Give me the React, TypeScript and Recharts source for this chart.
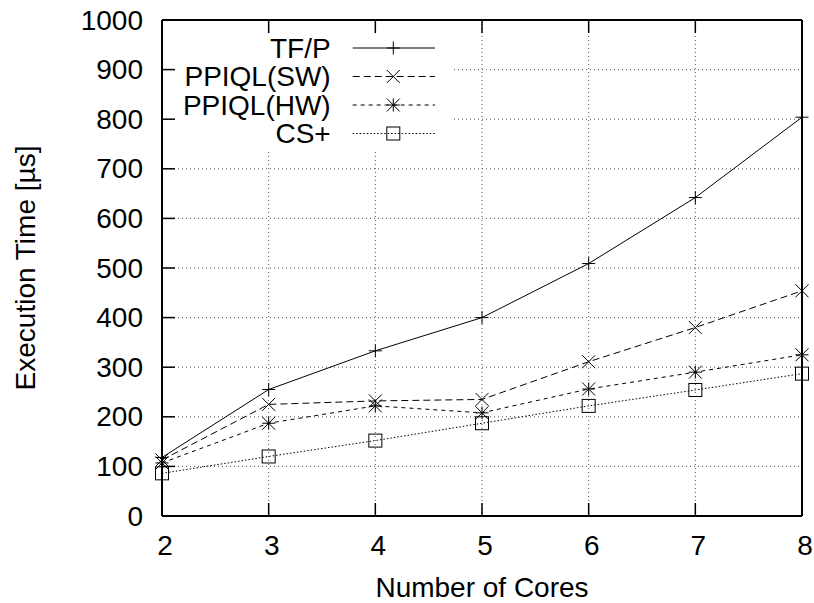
import React from 'react';
import { LineChart, Line, XAxis, YAxis, CartesianGrid, Legend, Label } from 'recharts';

const cores = [2, 3, 4, 5, 6, 7, 8];
const tfp = [118, 255, 333, 400, 509, 642, 804];
const ppiqlSW = [113, 225, 232, 235, 311, 380, 454];
const ppiqlHW = [107, 187, 222, 208, 256, 290, 325];
const csPlus = [86, 120, 152, 187, 222, 254, 287];
const yTicks = [0, 100, 200, 300, 400, 500, 600, 700, 800, 900, 1000];
const xTicks = [2, 3, 4, 5, 6, 7, 8];

const data = cores.map((c, i) => ({ cores: c, tfp: tfp[i], sw: ppiqlSW[i], hw: ppiqlHW[i], cs: csPlus[i] }));

const FONT = '"Liberation Sans", Arial, Helvetica, sans-serif';
const FS = 28;
const TICK_LEN = 13;
const Y_LABEL_GAP = 19;
const M = 6.5;

type MarkKind = 'plus' | 'cross' | 'star' | 'square';

const Mark = ({ kind, cx, cy }: { kind: MarkKind; cx: number; cy: number }) => {
  const s = { stroke: '#000', strokeWidth: 1, fill: 'none' };
  if (kind === 'square') return <rect x={cx - M} y={cy - M} width={2 * M} height={2 * M} {...s} />;
  const plus = (
    <>
      <line x1={cx - M} x2={cx + M} y1={cy} y2={cy} {...s} />
      <line x1={cx} x2={cx} y1={cy - M} y2={cy + M} {...s} />
    </>
  );
  const cross = (
    <>
      <line x1={cx - M} x2={cx + M} y1={cy - M} y2={cy + M} {...s} />
      <line x1={cx - M} x2={cx + M} y1={cy + M} y2={cy - M} {...s} />
    </>
  );
  return (
    <g>
      {(kind === 'plus' || kind === 'star') && plus}
      {(kind === 'cross' || kind === 'star') && cross}
    </g>
  );
};

const series: { key: string; name: string; dash?: string; mark: MarkKind }[] = [
  { key: 'tfp', name: 'TF/P', mark: 'plus' },
  { key: 'sw', name: 'PPIQL(SW)', dash: '7 4', mark: 'cross' },
  { key: 'hw', name: 'PPIQL(HW)', dash: '4 4', mark: 'star' },
  { key: 'cs', name: 'CS+', dash: '1.5 2', mark: 'square' },
];

const LeftTick = (p: any) => (
  <g>
    <line x1={p.x + Y_LABEL_GAP} x2={p.x + Y_LABEL_GAP + TICK_LEN} y1={p.y} y2={p.y} stroke="#000" strokeWidth={1.5} />
    <text x={p.x} y={p.y + 9.5} textAnchor="end" fontSize={FS} fontFamily={FONT} fill="#000">
      {p.payload.value}
    </text>
  </g>
);
const RightTick = (p: any) => (
  <line x1={p.x - TICK_LEN} x2={p.x} y1={p.y} y2={p.y} stroke="#000" strokeWidth={1.5} />
);
const BottomTick = (p: any) => (
  <g>
    <line x1={p.x} x2={p.x} y1={p.y - TICK_LEN} y2={p.y} stroke="#000" strokeWidth={1.5} />
    <text x={p.x + 3} y={p.y + 39} textAnchor="middle" fontSize={FS} fontFamily={FONT} fill="#000">
      {p.payload.value}
    </text>
  </g>
);
const TopTick = (p: any) => (
  <line x1={p.x} x2={p.x} y1={p.y} y2={p.y + TICK_LEN} stroke="#000" strokeWidth={1.5} />
);

const LegendBox = () => {
  const rows = [14, 42.5, 71, 99.5];
  return (
    <svg width={276} height={118} style={{ display: 'block' }}>
      <rect x={0} y={0} width={276} height={118} fill="#fff" />
      {series.map((s, i) => (
        <g key={s.key}>
          <text x={154.7} y={rows[i] + 9.5} textAnchor="end" fontSize={FS} fontFamily={FONT} fill="#000">
            {s.name}
          </text>
          <line x1={176.7} x2={259} y1={rows[i]} y2={rows[i]} stroke="#000" strokeWidth={1} strokeDasharray={s.dash} />
          <Mark kind={s.mark} cx={217.3} cy={rows[i]} />
        </g>
      ))}
    </svg>
  );
};

export default function App() {
  const axisLine = { stroke: '#000', strokeWidth: 2 };
  return (
    <div style={{ position: 'absolute', left: 0, top: 0, background: '#fff' }}>
      <LineChart width={814} height={603} data={data} margin={{ top: 0, right: 0, bottom: 0, left: 0 }}>
        <CartesianGrid stroke="#555" strokeDasharray="1 3" strokeWidth={1} horizontalValues={yTicks} verticalValues={xTicks} />
        <XAxis
          dataKey="cores"
          type="number"
          domain={[2, 8]}
          ticks={xTicks}
          interval={0}
          height={87}
          tickSize={0}
          tickMargin={0}
          tickLine={false}
          axisLine={axisLine}
          tick={BottomTick}
        >
          <Label
            content={(p: any) => {
              const vb = p.viewBox;
              return (
                <text x={vb.x + vb.width / 2} y={vb.y + vb.height - 6} textAnchor="middle" fontSize={FS} fontFamily={FONT} fill="#000">
                  Number of Cores
                </text>
              );
            }}
          />
        </XAxis>
        <XAxis
          xAxisId="top"
          orientation="top"
          dataKey="cores"
          type="number"
          domain={[2, 8]}
          ticks={xTicks}
          interval={0}
          height={20}
          tickSize={0}
          tickMargin={0}
          tickLine={false}
          axisLine={axisLine}
          tick={TopTick}
        />
        <YAxis
          type="number"
          domain={[0, 1000]}
          ticks={yTicks}
          interval={0}
          width={162}
          tickSize={0}
          tickMargin={Y_LABEL_GAP}
          tickLine={false}
          axisLine={axisLine}
          tick={LeftTick}
        >
          <Label
            content={(p: any) => {
              const vb = p.viewBox;
              const cx = vb.x + 35;
              const cy = vb.y + vb.height / 2;
              return (
                <text x={cx} y={cy} transform={`rotate(-90 ${cx} ${cy})`} textAnchor="middle" fontSize={FS} fontFamily={FONT} fill="#000">
                  Execution Time [µs]
                </text>
              );
            }}
          />
        </YAxis>
        <YAxis
          yAxisId="right"
          orientation="right"
          type="number"
          domain={[0, 1000]}
          ticks={yTicks}
          interval={0}
          width={12}
          tickSize={0}
          tickMargin={0}
          tickLine={false}
          axisLine={axisLine}
          tick={RightTick}
        />
        <Legend
          layout="horizontal"
          verticalAlign="middle"
          align="center"
          content={() => <LegendBox />}
          wrapperStyle={{ position: 'absolute', left: 176, top: 34, width: 276, height: 118, margin: 0, padding: 0 }}
        />
        {series.map((s) => (
          <Line
            key={s.key}
            dataKey={s.key}
            name={s.name}
            type="linear"
            stroke="#000"
            strokeWidth={1}
            strokeDasharray={s.dash}
            isAnimationActive={false}
            activeDot={false}
            dot={(p: any) => <Mark key={`${s.key}-${p.index}`} kind={s.mark} cx={p.cx} cy={p.cy} />}
          />
        ))}
      </LineChart>
    </div>
  );
}
